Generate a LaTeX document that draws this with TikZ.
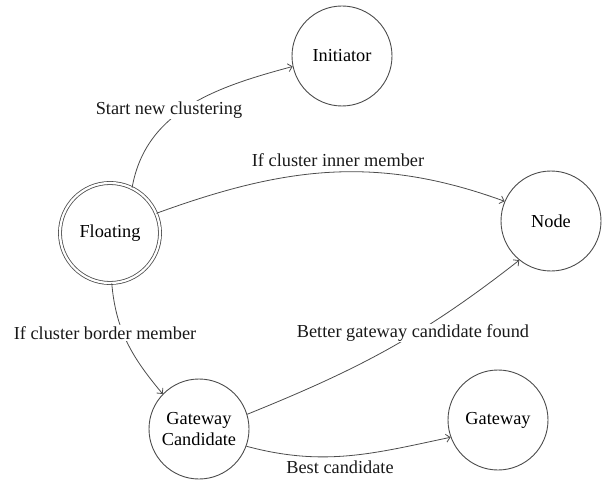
\documentclass[tikz,border=0pt]{standalone}
\usepackage{fontspec}
\setmainfont{Liberation Serif}
\usetikzlibrary{arrows.meta}
\tikzset{
  state/.style={circle, draw=black!70, line width=0.9pt, minimum size=100pt, inner sep=0pt, align=center},
  accept/.style={state, double=white, double distance=2.2pt, line width=0.8pt},
  conn/.style={draw=black!70, line width=0.8pt, -{Straight Barb[length=4pt,width=8pt]}},
  lbl/.style={inner sep=1pt, text=black!90},
  lblw/.style={lbl, fill=white}
}
\begin{document}
\begin{tikzpicture}[x=1pt, y=-1pt, font=\fontsize{18.3}{20.5}\selectfont]
\useasboundingbox (0,0) rectangle (602,481);
\node[state] (init) at (342,56) {Initiator};
\node[accept] (float) at (110,233) {Floating};
\node[state] (nd) at (551,221) {Node};
\node[state] (gc) at (199,429) {Gateway\\Candidate};
\node[state] (gw) at (498,420) {Gateway};

\draw[conn] (float.64) to[out=80, in=195] (init.192);
\draw[conn] (float.23) to[out=20, in=160] (nd.157);
\draw[conn] (float.272) to[out=275, in=130] (gc.136);
\draw[conn] (gc.17) to[out=22, in=218] (nd.231);
\draw[conn] (gc.340) to[out=345, in=192] (gw.200);

\node[lblw] (l1) at (169,110) {Start new clustering};
\node[lbl] (l2) at (338,160) {If cluster inner member};
\node[lblw] (l3) at (105,333) {If cluster border member};
\node[lblw] (l4) at (413,333) {Better gateway candidate found};
\node[lbl] (l5) at (340,467) {Best candidate};
\end{tikzpicture}
\end{document}
